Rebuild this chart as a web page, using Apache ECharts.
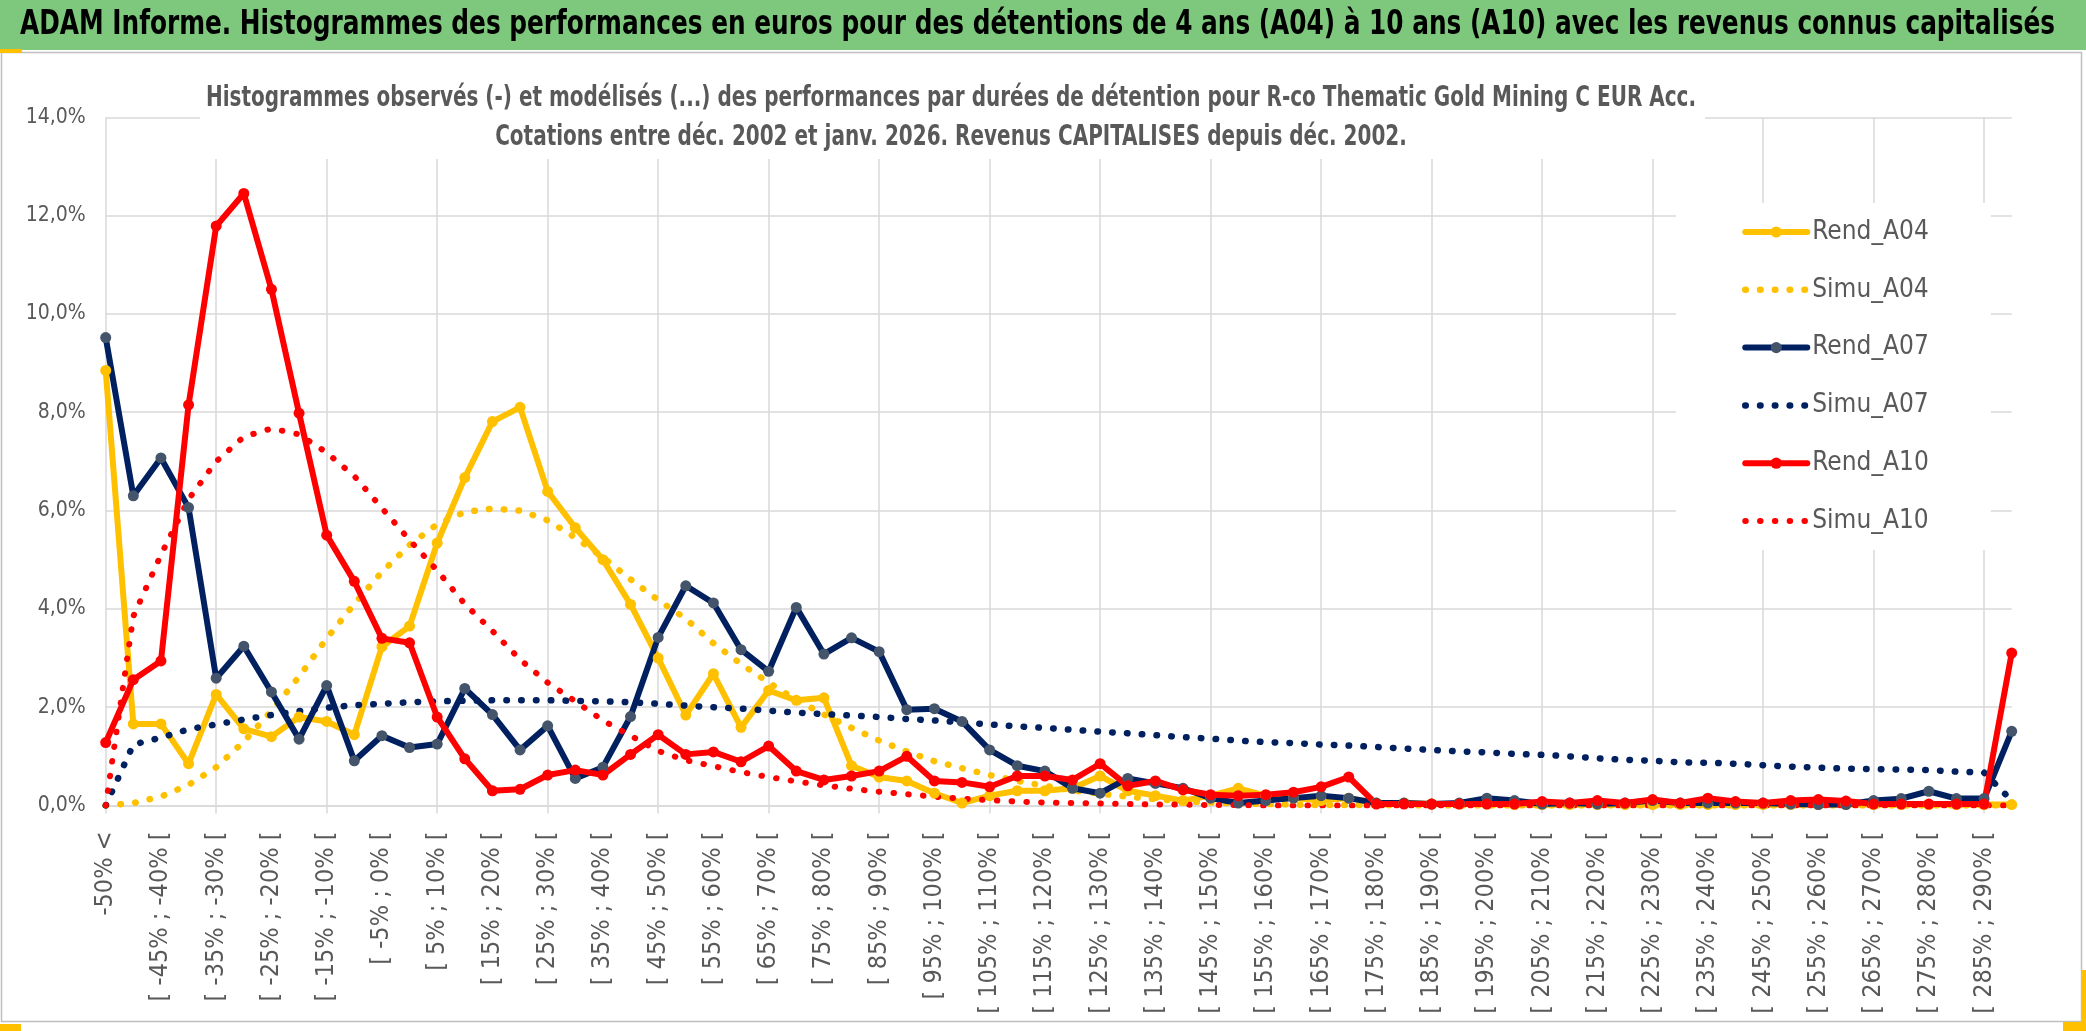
<!DOCTYPE html>
<html>
<head>
<meta charset="utf-8">
<script src="https://cdn.jsdelivr.net/npm/echarts@6/dist/echarts.min.js"></script>
<style>html,body{margin:0;padding:0;background:#fff}#c{width:2086px;height:1031px}</style>
</head>
<body>
<div id="c"></div>
<script>
const categories = [
"-50% <","[ -50% ; -45% [","[ -45% ; -40% [","[ -40% ; -35% [","[ -35% ; -30% [","[ -30% ; -25% [","[ -25% ; -20% [","[ -20% ; -15% [","[ -15% ; -10% [","[ -10% ; -5% [",
"[ -5% ; 0% [","[ 0% ; 5% [","[ 5% ; 10% [","[ 10% ; 15% [","[ 15% ; 20% [","[ 20% ; 25% [","[ 25% ; 30% [","[ 30% ; 35% [","[ 35% ; 40% [","[ 40% ; 45% [",
"[ 45% ; 50% [","[ 50% ; 55% [","[ 55% ; 60% [","[ 60% ; 65% [","[ 65% ; 70% [","[ 70% ; 75% [","[ 75% ; 80% [","[ 80% ; 85% [","[ 85% ; 90% [","[ 90% ; 95% [",
"[ 95% ; 100% [","[ 100% ; 105% [","[ 105% ; 110% [","[ 110% ; 115% [","[ 115% ; 120% [","[ 120% ; 125% [","[ 125% ; 130% [","[ 130% ; 135% [","[ 135% ; 140% [","[ 140% ; 145% [",
"[ 145% ; 150% [","[ 150% ; 155% [","[ 155% ; 160% [","[ 160% ; 165% [","[ 165% ; 170% [","[ 170% ; 175% [","[ 175% ; 180% [","[ 180% ; 185% [","[ 185% ; 190% [","[ 190% ; 195% [",
"[ 195% ; 200% [","[ 200% ; 205% [","[ 205% ; 210% [","[ 210% ; 215% [","[ 215% ; 220% [","[ 220% ; 225% [","[ 225% ; 230% [","[ 230% ; 235% [","[ 235% ; 240% [","[ 240% ; 245% [",
"[ 245% ; 250% [","[ 250% ; 255% [","[ 255% ; 260% [","[ 260% ; 265% [","[ 265% ; 270% [","[ 270% ; 275% [","[ 275% ; 280% [","[ 280% ; 285% [","[ 285% ; 290% [","290% >"
];

const rendA04 = [
8.85,1.66,1.66,0.85,2.26,1.56,1.40,1.80,1.71,1.44,
3.23,3.65,5.34,6.67,7.81,8.10,6.39,5.65,5.00,4.09,
3.00,1.84,2.68,1.59,2.34,2.14,2.19,0.81,0.58,0.50,
0.25,0.05,0.20,0.30,0.30,0.35,0.60,0.30,0.20,0.10,
0.20,0.35,0.20,0.15,0.10,0.15,0.05,0.05,0.03,0.03,
0.03,0.02,0.02,0.02,0.02,0.02,0.02,0.02,0.02,0.02,
0.02,0.02,0.02,0.02,0.02,0.02,0.02,0.02,0.02,0.02
];
const simuA04 = [
0.00,0.05,0.18,0.42,0.78,1.30,1.92,2.62,3.40,4.10,
4.75,5.30,5.72,5.97,6.04,6.00,5.80,5.45,5.05,4.60,
4.18,3.80,3.30,2.88,2.50,2.15,1.85,1.58,1.32,1.10,
0.90,0.76,0.62,0.50,0.40,0.31,0.24,0.18,0.13,0.09,
0.06,0.04,0.03,0.02,0.01,0.01,0.01,0.00,0.00,0.00,
0.00,0.00,0.00,0.00,0.00,0.00,0.00,0.00,0.00,0.00,
0.00,0.00,0.00,0.00,0.00,0.00,0.00,0.00,0.00,0.00
];
const rendA07 = [
9.52,6.30,7.07,6.06,2.59,3.24,2.31,1.35,2.44,0.91,
1.42,1.18,1.25,2.38,1.85,1.13,1.62,0.55,0.78,1.81,
3.42,4.47,4.12,3.17,2.73,4.03,3.08,3.41,3.13,1.95,
1.97,1.71,1.13,0.81,0.70,0.35,0.25,0.55,0.45,0.35,
0.15,0.05,0.10,0.15,0.20,0.15,0.05,0.05,0.03,0.05,
0.15,0.10,0.03,0.05,0.03,0.05,0.10,0.05,0.05,0.05,
0.05,0.03,0.02,0.02,0.10,0.14,0.29,0.14,0.14,1.51
];
const simuA07 = [
0.00,1.24,1.38,1.55,1.65,1.75,1.84,1.92,1.99,2.04,
2.07,2.10,2.12,2.13,2.14,2.14,2.14,2.13,2.12,2.10,
2.07,2.03,2.00,1.97,1.93,1.89,1.86,1.83,1.80,1.76,
1.73,1.69,1.65,1.61,1.58,1.54,1.50,1.47,1.43,1.39,
1.36,1.32,1.29,1.27,1.24,1.22,1.19,1.16,1.13,1.10,
1.08,1.05,1.03,1.00,0.96,0.93,0.91,0.88,0.87,0.85,
0.82,0.79,0.77,0.75,0.74,0.73,0.72,0.69,0.67,0.10
];
const rendA10 = [
1.28,2.56,2.94,8.15,11.79,12.45,10.50,7.98,5.50,4.56,
3.40,3.31,1.80,0.95,0.30,0.33,0.62,0.72,0.62,1.04,
1.44,1.04,1.09,0.89,1.21,0.70,0.52,0.60,0.70,1.00,
0.50,0.47,0.38,0.60,0.60,0.52,0.85,0.40,0.50,0.32,
0.22,0.20,0.22,0.27,0.38,0.58,0.03,0.03,0.03,0.03,
0.03,0.03,0.08,0.05,0.10,0.05,0.12,0.05,0.15,0.08,
0.05,0.10,0.12,0.09,0.03,0.03,0.03,0.03,0.03,3.10
];
const simuA10 = [
0.00,3.85,5.10,6.23,7.00,7.50,7.67,7.55,7.18,6.70,
6.05,5.40,4.78,4.10,3.55,2.97,2.50,2.12,1.73,1.42,
1.11,0.92,0.80,0.68,0.58,0.49,0.41,0.34,0.28,0.23,
0.18,0.14,0.11,0.08,0.06,0.05,0.04,0.03,0.02,0.02,
0.01,0.01,0.00,0.00,0.00,0.00,0.00,0.00,0.00,0.00,
0.00,0.00,0.00,0.00,0.00,0.00,0.00,0.00,0.00,0.00,
0.00,0.00,0.00,0.00,0.00,0.00,0.00,0.00,0.00,0.00
];
const yTicks = [0, 2, 4, 6, 8, 10, 12, 14];

const mainTitle = "ADAM Informe. Histogrammes des performances en euros pour des détentions de 4 ans (A04) à 10 ans (A10) avec les revenus connus capitalisés";
const subLine1 = "Histogrammes observés (-) et modélisés (...) des performances par durées de détention pour R-co Thematic Gold Mining C EUR Acc.";
const subLine2 = "Cotations entre déc. 2002 et janv. 2026. Revenus CAPITALISES depuis déc. 2002.";

const NARROW = "'DejaVu Sans Condensed','Liberation Sans',sans-serif";
const YEL = '#FFC000', NAVY = '#002060', SLATE = '#44546A', RED = '#FF0000';
const DOT = [0.5, 14.3];

const mctx = document.createElement('canvas').getContext('2d');
function fitScale(text, font, target) {
  mctx.font = font;
  const w = mctx.measureText(text).width;
  return w > 0 ? target / w : 1;
}
const titleFont = "bold 34px " + NARROW;
const subFont = "bold 28px " + NARROW;
const titleScale = fitScale(mainTitle, titleFont, 2035);
const subScale = fitScale(subLine1, subFont, 1490);

function rend(name, data, lineColor, markerColor) {
  return { name, type: 'line', data, symbol: 'circle', symbolSize: 11, showAllSymbol: true,
    lineStyle: { color: lineColor, width: 6, cap: 'round', join: 'round' },
    itemStyle: { color: markerColor, borderWidth: 0 },
    emphasis: { disabled: true }, silent: true };
}
function simu(name, data, color, w) {
  return { name, type: 'line', data, symbol: 'none', showSymbol: false,
    lineStyle: { color, width: w, type: DOT, cap: 'round', join: 'round' },
    itemStyle: { color },
    emphasis: { disabled: true }, silent: true };
}
function legRend(name) { return { name, lineStyle: { width: 6, type: 'solid', cap: 'round' } }; }
function legSimu(name, w) { return { name, itemStyle: { opacity: 0 }, lineStyle: { width: w, type: DOT, cap: 'round' } }; }

const chart = echarts.init(document.getElementById('c'), null, { renderer: 'canvas' });
chart.setOption({
  animation: false,
  backgroundColor: '#ffffff',
  textStyle: { fontFamily: NARROW },
  grid: { left: 105.7, right: 74.3, top: 117.3, bottom: 225.5, containLabel: false },
  legend: {
    orient: 'vertical', left: 1676, top: 203,
    padding: [14, 62, 14, 66], itemGap: 27.8, itemWidth: 62, itemHeight: 14,
    backgroundColor: '#ffffff',
    textStyle: { fontSize: 26, color: '#595959', fontFamily: NARROW, lineHeight: 30 },
    data: [legRend('Rend_A04'), legSimu('Simu_A04', 6.5), legRend('Rend_A07'), legSimu('Simu_A07', 6.5), legRend('Rend_A10'), legSimu('Simu_A10', 6)],
    selectedMode: false
  },
  xAxis: {
    type: 'category', data: categories, boundaryGap: false,
    axisLine: { show: true, lineStyle: { color: '#d9d9d9', width: 1.5 } },
    axisTick: { show: true, interval: 3, length: 8, lineStyle: { color: '#d9d9d9', width: 1.5 } },
    splitLine: { show: true, interval: 3, lineStyle: { color: '#d9d9d9', width: 1.5 } },
    axisLabel: { interval: 1, rotate: 90, margin: 26, color: '#595959', fontSize: 25, fontFamily: NARROW }
  },
  yAxis: {
    type: 'value', min: yTicks[0], max: yTicks[yTicks.length - 1], interval: 2,
    axisLine: { show: false }, axisTick: { show: false },
    splitLine: { lineStyle: { color: '#d9d9d9', width: 1.5 } },
    axisLabel: { margin: 20, color: '#595959', fontSize: 21, fontFamily: NARROW,
      formatter: v => v.toFixed(1).replace('.', ',') + '%' }
  },
  graphic: [
    { type: 'rect', z: 0, shape: { x: 0, y: 0, width: 2086, height: 50 }, style: { fill: '#7DC87D' } },
    { type: 'text', z: 1, x: 20, y: 25, scaleX: titleScale, style: { text: mainTitle, x: 0, y: 0, font: titleFont, fill: '#000000', align: 'left', verticalAlign: 'middle' } },
    { type: 'rect', z: 1, shape: { x: 1.5, y: 52.5, width: 2080, height: 969 }, style: { fill: 'none', stroke: '#bfbfbf', lineWidth: 1.5 } },
    { type: 'rect', z: 10, shape: { x: 200, y: 62, width: 1505, height: 97 }, style: { fill: '#ffffff' } },
    { type: 'text', z: 11, x: 951, y: 99, scaleX: subScale, style: { text: subLine1, x: 0, y: 0, font: subFont, fill: '#595959', align: 'center', verticalAlign: 'middle' } },
    { type: 'text', z: 11, x: 951, y: 138, scaleX: subScale, style: { text: subLine2, x: 0, y: 0, font: subFont, fill: '#595959', align: 'center', verticalAlign: 'middle' } },
    { type: 'rect', z: 12, shape: { x: 0, y: 49, width: 22, height: 4 }, style: { fill: YEL } },
    { type: 'rect', z: 12, shape: { x: 0, y: 1024, width: 21, height: 7 }, style: { fill: YEL } },
    { type: 'rect', z: 12, shape: { x: 2082, y: 970, width: 4, height: 61 }, style: { fill: YEL } },
    { type: 'rect', z: 12, shape: { x: 2063, y: 1022, width: 23, height: 9 }, style: { fill: YEL } }
  ],
  series: [
    rend('Rend_A04', rendA04, YEL, YEL),
    simu('Simu_A04', simuA04, YEL, 6.5),
    rend('Rend_A07', rendA07, NAVY, SLATE),
    simu('Simu_A07', simuA07, NAVY, 6.5),
    rend('Rend_A10', rendA10, RED, RED),
    simu('Simu_A10', simuA10, RED, 6)
  ]
});
</script>
</body>
</html>
